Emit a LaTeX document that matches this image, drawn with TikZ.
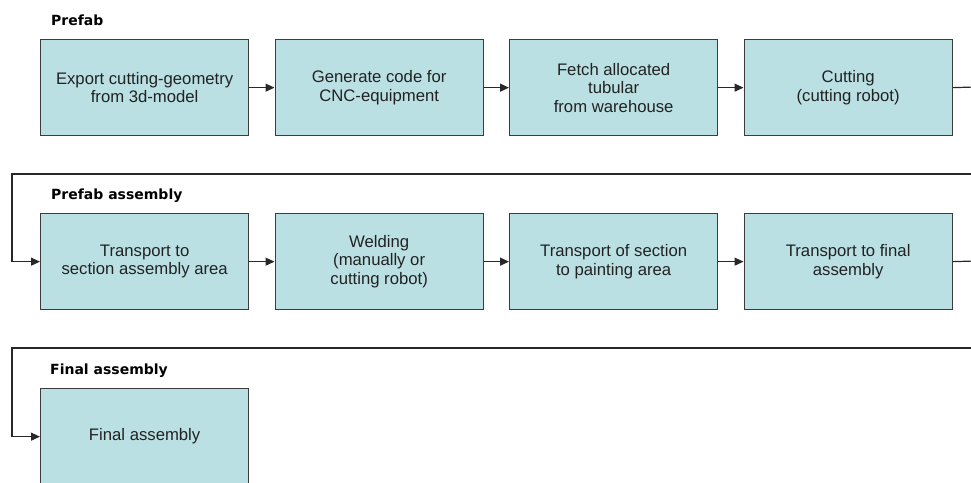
\documentclass[tikz,border=0pt]{standalone}
\usepackage{fontspec}
\setmainfont{Liberation Sans}
\newfontfamily\hdrfont{DejaVu Sans}
\usetikzlibrary{arrows.meta}
\definecolor{boxfill}{RGB}{186,224,227}
\definecolor{boxline}{RGB}{60,60,60}
\definecolor{wire}{RGB}{40,40,40}
\definecolor{ink}{RGB}{34,34,34}
\tikzset{
  stepbox/.style={draw=boxline, line width=1.3pt, fill=boxfill,
    minimum width=208pt, minimum height=96pt, inner sep=0pt,
    text=ink, align=center, anchor=north west,
    font=\fontsize{16.7}{18.5}\selectfont},
  phase/.style={anchor=base west, inner sep=0pt, text=black,
    font=\hdrfont\bfseries\fontsize{14}{16}\selectfont},
  flow/.style={draw=wire, line width=1.2pt,
    -{Triangle[length=9pt,width=8pt]}},
  link/.style={draw=wire, line width=1.2pt}
}
\begin{document}
\begin{tikzpicture}[x=1pt,y=-1pt]
  \useasboundingbox (0,0) rectangle (971,482);
  \clip (0,0) rectangle (971,482);
  \fill[white] (0,0) rectangle (971,482);

  % phase titles
  \node[phase] (tPrefab) at (51,25) {Prefab};
  \node[phase] (tAssy)   at (51,199) {Prefab assembly};
  \node[phase] (tFinal)  at (50,374) {Final assembly};

  % prefab row
  \node[stepbox] (a1) at (40,39)    {Export cutting-geometry\\from 3d-model};
  \node[stepbox] (a2) at (274.5,39) {Generate code for\\CNC-equipment};
  \node[stepbox] (a3) at (509,39)   {Fetch allocated\\tubular\\from warehouse};
  \node[stepbox] (a4) at (743.5,39) {Cutting\\(cutting robot)};

  % prefab assembly row
  \node[stepbox] (b1) at (40,213)    {Transport to\\section assembly area};
  \node[stepbox] (b2) at (274.5,213) {Welding\\(manually or\\cutting robot)};
  \node[stepbox] (b3) at (509,213)   {Transport of section\\to painting area};
  \node[stepbox] (b4) at (743.5,213) {Transport to final\\assembly};

  % final assembly row
  \node[stepbox] (c1) at (40,388) {Final assembly};

  % connectors within rows
  \draw[flow] (a1.east) -- (a2.west);
  \draw[flow] (a2.east) -- (a3.west);
  \draw[flow] (a3.east) -- (a4.west);
  \draw[flow] (b1.east) -- (b2.west);
  \draw[flow] (b2.east) -- (b3.west);
  \draw[flow] (b3.east) -- (b4.west);

  % wrap-around connectors between rows
  \coordinate (aOut) at (975,87);
  \coordinate (aRet) at (975,174);
  \coordinate (aTurn) at (12,174);
  \draw[link] (a4.east) -- (aOut);
  \draw[flow] (aRet) -- (aTurn) |- (b1.west);

  \coordinate (bOut) at (975,261);
  \coordinate (bRet) at (975,348);
  \coordinate (bTurn) at (12,348);
  \draw[link] (b4.east) -- (bOut);
  \draw[flow] (bRet) -- (bTurn) |- (c1.west);
\end{tikzpicture}
\end{document}
